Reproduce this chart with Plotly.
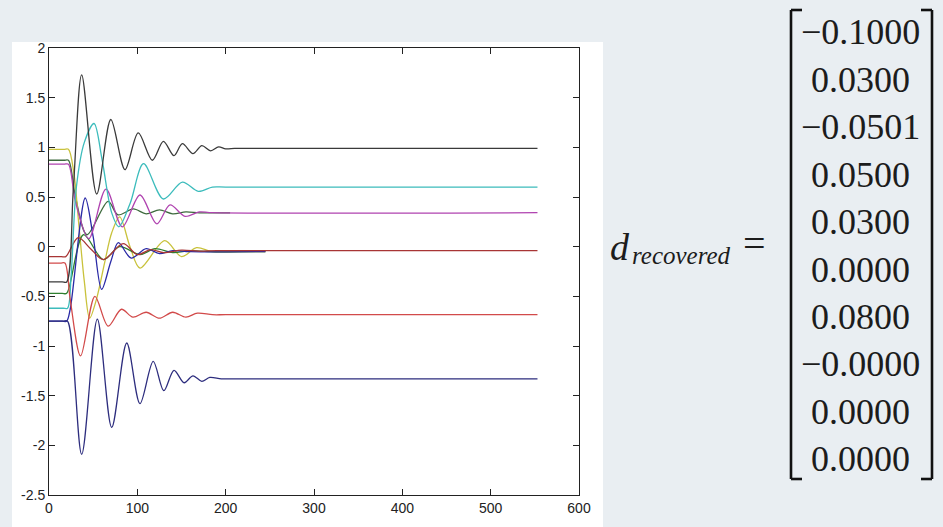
import plotly.graph_objects as go

# ---------------- data ----------------
x_ticks = [0, 100, 200, 300, 400, 500, 600]
x_tick_text = ["0", "100", "200", "300", "400", "500", "600"]
y_ticks = [-2.5, -2, -1.5, -1, -0.5, 0, 0.5, 1, 1.5, 2]
y_tick_text = ["-2.5", "-2", "-1.5", "-1", "-0.5", "0", "0.5", "1", "1.5", "2"]

black_x = [0, 15, 20, 27.5, 37, 54, 70, 86, 101, 117, 129.5, 141.5, 151, 163, 173, 183, 192, 200, 210, 220, 553]
black_y = [-0.355, -0.355, -0.355, 0.57, 1.73, 0.53, 1.28, 0.775, 1.145, 0.87, 1.06, 0.916, 1.037, 0.937, 1.017, 0.965, 1.005, 0.985, 0.99, 0.99, 0.99]

cyan_x = [0, 16, 21, 25, 31, 40, 51, 60, 71, 79, 92, 107, 129.5, 151, 169, 185, 200, 553]
cyan_y = [-0.62, -0.62, -0.62, -0.3, 0.6, 1.05, 1.24, 0.88, 0.34, 0.2, 0.44, 0.835, 0.48, 0.65, 0.557, 0.6, 0.6, 0.6]

magenta_x = [0, 17, 22, 30, 45, 64.5, 83, 103, 122, 137, 154, 170, 185, 553]
magenta_y = [0.83, 0.83, 0.83, 0.45, 0.08, 0.58, 0.2, 0.52, 0.23, 0.42, 0.305, 0.35, 0.342, 0.342]

dkgreen_x = [0, 17, 22, 30, 43, 67, 78, 95.5, 110, 125, 140, 155, 170, 190, 205]
dkgreen_y = [0.87, 0.87, 0.87, 0.5, 0.12, 0.455, 0.32, 0.38, 0.33, 0.37, 0.33, 0.35, 0.34, 0.34, 0.34]

yellow_x = [0, 17, 22, 28, 34, 40, 46, 54, 63, 71, 80, 91.7, 103, 131, 150, 167, 185, 215, 245]
yellow_y = [0.98, 0.98, 0.98, 0.75, 0.2, -0.35, -0.72, -0.52, -0.16, 0.14, 0.3, 0.0, -0.215, 0.06, -0.10, -0.01, -0.05, -0.05, -0.05]

navy_x = [0, 16, 21, 37, 54.7, 71, 88, 103, 118, 130, 141.5, 153, 163, 173, 182, 195, 210, 553]
navy_y = [-0.75, -0.75, -0.75, -2.09, -0.73, -1.82, -0.97, -1.58, -1.155, -1.45, -1.245, -1.37, -1.30, -1.356, -1.316, -1.33, -1.33, -1.33]

blue_x = [0, 15, 20, 24, 41, 50, 59.6, 70, 78.5, 93, 110, 125, 140, 160, 245]
blue_y = [-0.75, -0.75, -0.75, -0.63, 0.49, 0.1, -0.43, -0.15, 0.04, -0.115, -0.02, -0.07, -0.04, -0.05, -0.05]

red_x = [0, 13, 18, 24, 35.8, 52, 67, 82, 95, 110, 125, 140, 155, 168, 185, 200, 553]
red_y = [-0.165, -0.165, -0.165, -0.53, -1.10, -0.50, -0.80, -0.63, -0.71, -0.66, -0.72, -0.66, -0.71, -0.67, -0.685, -0.685, -0.685]

dkred_x = [0, 14, 19, 33, 47, 61.5, 84, 100, 115, 130, 150, 170, 190, 553]
dkred_y = [-0.10, -0.10, -0.10, 0.09, -0.02, -0.13, 0.03, -0.08, -0.03, -0.06, -0.035, -0.045, -0.04, -0.04]

green_x = [0, 15, 20, 39, 61.5, 80, 103, 120, 140, 160, 180, 245]
green_y = [-0.47, -0.47, -0.47, 0.12, -0.13, 0.0, -0.08, -0.02, -0.06, -0.04, -0.05, -0.05]

d_recovered = [-0.1000, 0.0300, -0.0501, 0.0500, 0.0300, 0.0000, 0.0800, -0.0000, 0.0000, 0.0000]

# ---------------- figure ----------------
series = [
    (dkgreen_x, dkgreen_y, "#3d6a3d"),
    (yellow_x, yellow_y, "#c9c23c"),
    (green_x, green_y, "#2f7f2f"),
    (blue_x, blue_y, "#2a2aa6"),
    (dkred_x, dkred_y, "#a83535"),
    (magenta_x, magenta_y, "#b043b0"),
    (cyan_x, cyan_y, "#3cbcbc"),
    (red_x, red_y, "#d24a4a"),
    (navy_x, navy_y, "#2d2d7e"),
    (black_x, black_y, "#3a3a3a"),
]

fig = go.Figure()
for xs, ys, col in series:
    fig.add_trace(go.Scatter(x=xs, y=ys, mode="lines",
                             line=dict(color=col, width=1.3, shape="spline", smoothing=0.9),
                             showlegend=False, hoverinfo="skip"))

W, H = 943, 527
L, R, T, B = 49, 579, 48, 495
pw, ph = R - L, B - T


def px(xp):
    return (xp - L) / pw


def py(yp):
    return (B - yp) / ph


shapes = []
# white figure panel behind the axes
shapes.append(dict(type="rect", xref="paper", yref="paper", layer="below",
                   x0=px(12), x1=px(603), y0=py(530), y1=py(42),
                   fillcolor="white", line=dict(width=0)))

# matrix brackets
bl, br, btop, bbot, serif = 791, 932, 10, 479, 11
bracket_line = dict(color="#111111", width=2.6)
for seg in [
    (bl, btop, bl, bbot), (bl, btop, bl + serif, btop), (bl, bbot, bl + serif, bbot),
    (br, btop, br, bbot), (br, btop, br - serif, btop), (br, bbot, br - serif, bbot),
]:
    shapes.append(dict(type="line", xref="paper", yref="paper",
                       x0=px(seg[0]), y0=py(seg[1]), x1=px(seg[2]), y1=py(seg[3]),
                       line=bracket_line))

annotations = []
serif_font = "Liberation Serif, DejaVu Serif, serif"
row0, row_step = 32.5, 47.4
for i, v in enumerate(d_recovered):
    txt = f"{v:.4f}".replace("-", "\u2212")
    annotations.append(dict(xref="paper", yref="paper", x=px(860), y=py(row0 + i * row_step),
                            xanchor="center", yanchor="middle", showarrow=False, text=txt,
                            font=dict(family=serif_font, size=36, color="#1c1c1c")))

annotations.append(dict(xref="paper", yref="paper", x=px(620), y=py(247),
                        xanchor="center", yanchor="middle", showarrow=False, text="<i>d</i>",
                        font=dict(family=serif_font, size=38, color="#1c1c1c")))
annotations.append(dict(xref="paper", yref="paper", x=px(681), y=py(255),
                        xanchor="center", yanchor="middle", showarrow=False, text="<i>recovered</i>",
                        font=dict(family=serif_font, size=25, color="#1c1c1c")))
annotations.append(dict(xref="paper", yref="paper", x=px(754), y=py(244),
                        xanchor="center", yanchor="middle", showarrow=False, text="=",
                        font=dict(family=serif_font, size=40, color="#1c1c1c")))

axis_common = dict(showline=True, linecolor="#222222", linewidth=1, mirror="allticks",
                   ticks="inside", ticklen=6, tickwidth=1, tickcolor="#222222",
                   showgrid=False, zeroline=False, automargin=False,
                   tickfont=dict(family="Liberation Sans, Arial, sans-serif", size=14, color="#222222"))

fig.update_layout(
    width=W, height=H,
    margin=dict(l=L, r=W - R, t=T, b=H - B, pad=0, autoexpand=False),
    paper_bgcolor="#e9eef2",
    plot_bgcolor="white",
    shapes=shapes,
    annotations=annotations,
    xaxis=dict(range=[0, 600], tickmode="array", tickvals=x_ticks, ticktext=x_tick_text, **axis_common),
    yaxis=dict(range=[-2.5, 2], tickmode="array", tickvals=y_ticks, ticktext=y_tick_text, **axis_common),
)

fig.write_html(
    "out.html",
    config={"displayModeBar": False, "staticPlot": True},
    post_script="document.body.style.margin='0px';document.body.style.overflow='hidden';"
                "document.body.style.background='#e9eef2';",
)
